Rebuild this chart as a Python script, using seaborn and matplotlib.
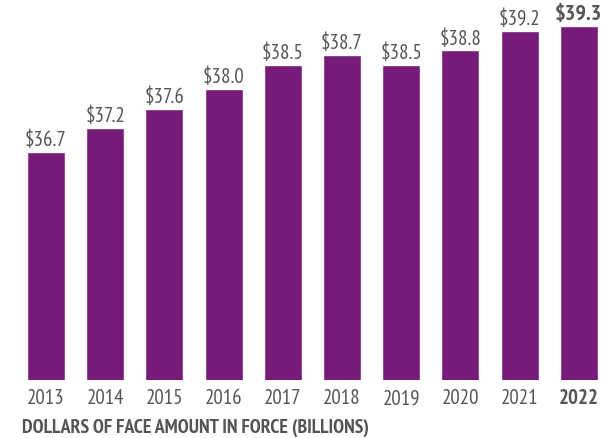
import matplotlib
matplotlib.use("Agg")
import matplotlib.pyplot as plt
import seaborn as sns
import pandas as pd
from matplotlib import font_manager

years = ["2013", "2014", "2015", "2016", "2017", "2018", "2019", "2020", "2021", "2022"]
values = [36.7, 37.2, 37.6, 38.0, 38.5, 38.7, 38.5, 38.8, 39.2, 39.3]
labels = ["$36.7", "$37.2", "$37.6", "$38.0", "$38.5", "$38.7", "$38.5", "$38.8", "$39.2", "$39.3"]
title = "DOLLARS OF FACE AMOUNT IN FORCE (BILLIONS)"

sns.set_theme(style="white")
names = {f.name for f in font_manager.fontManager.ttflist}
fam = "DejaVu Sans"
for cand in ["PT Sans Narrow", "Fira Sans Condensed", "Asap Condensed", "Archivo Narrow"]:
    if cand in names:
        fam = cand
        break
plt.rcParams["font.family"] = [fam, "DejaVu Sans"]

purple = "#771B79"
gray = "#555555"

df = pd.DataFrame({"year": years, "value": values})
fig = plt.figure(figsize=(6.01, 4.39), dpi=100)
ax = fig.add_axes([0, 1 - 381 / 439, 1, 381 / 439])
sns.barplot(data=df, x="year", y="value", color=purple, saturation=1, width=0.64, ax=ax)
ax.set_xlim(-0.777, 9.375)
ax.set_ylim(32, 32 + 381 / 48.46)
for s in ax.spines.values():
    s.set_visible(False)
ax.set_yticks([])
ax.set_xlabel("")
ax.set_ylabel("")
ax.tick_params(axis="x", length=0, pad=6, labelsize=15, labelcolor=gray)
for i, t in enumerate(ax.get_xticklabels()):
    if i == len(years) - 1:
        t.set_fontweight("bold")
for i, (v, lab) in enumerate(zip(values, labels)):
    last = i == len(values) - 1
    ax.text(i, v + 0.06, lab, ha="center", va="bottom",
            fontsize=16 if last else 15, fontweight="bold" if last else "normal", color=gray)
fig.text(22 / 601, 1 - 428 / 439, title, ha="left", va="center",
         fontsize=14.2, fontweight="bold", color=gray)
fig.savefig("out.png", dpi=100)
